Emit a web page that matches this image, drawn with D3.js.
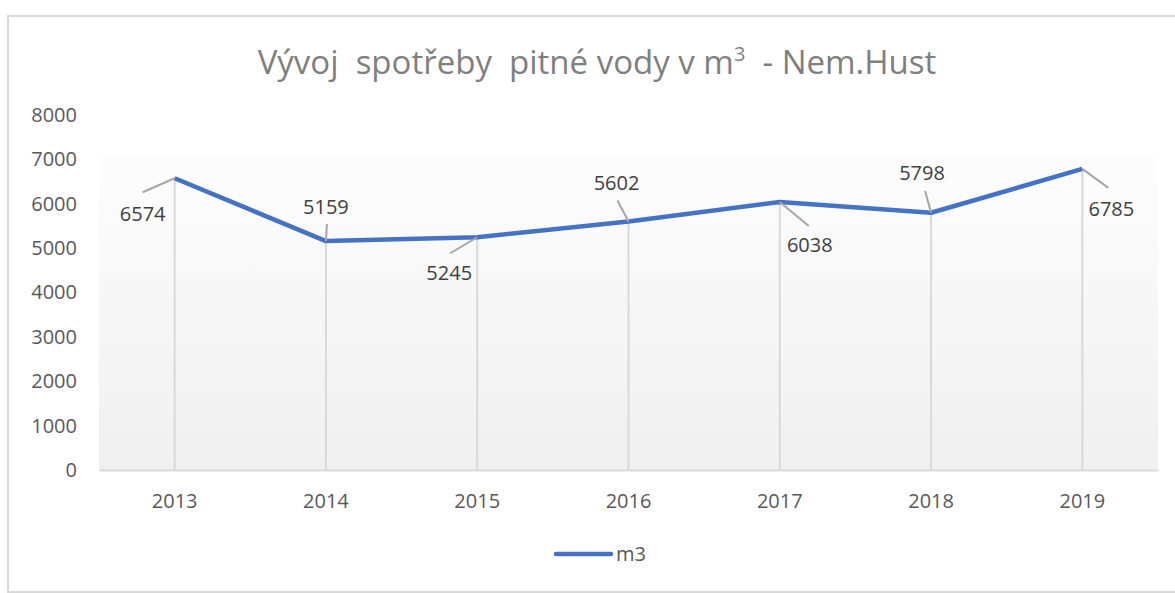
<!DOCTYPE html>
<html>
<head>
<meta charset="utf-8">
<script src="https://cdn.jsdelivr.net/npm/d3@7"></script>
<style>
  body { margin: 0; background: #fff; }
  text { font-family: "Open Sans", "Noto Sans", sans-serif; }
</style>
</head>
<body>
<div id="chart"></div>
<script>
// data
const years = ['2013', '2014', '2015', '2016', '2017', '2018', '2019'];
const values = [6574, 5159, 5245, 5602, 6038, 5798, 6785];
const yTicks = [0, 1000, 2000, 3000, 4000, 5000, 6000, 7000, 8000];
const seriesName = 'm3';

// label placement (leader end dx/dy, text dx/dy relative to point)
const labelPos = [
  { lx: -32, ly: 14, tx: -32, ty: 36 },
  { lx: 1, ly: -17, tx: 0, ty: -34 },
  { lx: -27, ly: 16, tx: -28, ty: 36 },
  { lx: -11, ly: -21, tx: -12, ty: -38 },
  { lx: 29, ly: 24, tx: 30, ty: 43 },
  { lx: -6, ly: -22, tx: -9, ty: -40 },
  { lx: 26, ly: 19, tx: 29, ty: 40 }
];

const W = 1175, H = 593;
const margin = { left: 99, right: 17, top: 115, bottom: 123 };
const fs = '20px';

const svg = d3.select('#chart').append('svg')
  .attr('width', W).attr('height', H);

// outer frame
svg.append('rect')
  .attr('x', 8).attr('y', 16).attr('width', 1180).attr('height', 576)
  .style('fill', '#fff').style('stroke', '#d9d9d9').style('stroke-width', 2);

const x = d3.scaleBand().domain(years).range([margin.left, W - margin.right]);
const y = d3.scaleLinear().domain([0, 8000]).range([H - margin.bottom, margin.top]);

// plot background gradient
const grad = svg.append('defs').append('linearGradient')
  .attr('id', 'bg').attr('x1', 0).attr('y1', 0).attr('x2', 0).attr('y2', 1);
grad.append('stop').attr('offset', '0%').attr('stop-color', '#fdfdfd');
grad.append('stop').attr('offset', '100%').attr('stop-color', '#f0f0f0');

const bgTop = 155;
svg.append('rect')
  .attr('x', margin.left).attr('y', bgTop)
  .attr('width', W - margin.right - margin.left).attr('height', y(0) - bgTop)
  .style('fill', 'url(#bg)');

// title
const title = svg.append('text')
  .attr('x', 597).attr('y', 74)
  .style('text-anchor', 'middle').style('font-size', '33px')
  .style('fill', '#7f7f7f').style('white-space', 'pre');
title.append('tspan').text('Vývoj  spotřeby  pitné vody v m');
title.append('tspan').attr('dy', -13).style('font-size', '20px').text('3');
title.append('tspan').attr('dy', 13).text('  - Nem.Hust');

// y axis labels
const yAxis = d3.axisLeft(y).tickValues(yTicks).tickFormat(d3.format('d'))
  .tickSize(0).tickPadding(0);
svg.append('g')
  .attr('transform', `translate(${77},0)`)
  .call(yAxis)
  .call(g => g.select('.domain').remove())
  .call(g => g.selectAll('text')
    .style('font-size', fs).style('fill', '#595959')
    .style('font-family', '"Open Sans", sans-serif'));

// x axis
const xAxis = d3.axisBottom(x).tickSize(0).tickPadding(0);
svg.append('g')
  .attr('transform', `translate(0,${y(0)})`)
  .call(xAxis)
  .call(g => g.select('.domain').style('stroke', '#d9d9d9').style('stroke-width', 2))
  .call(g => g.selectAll('text')
    .attr('y', 24)
    .style('font-size', fs).style('fill', '#595959')
    .style('font-family', '"Open Sans", sans-serif'));

const cx = d => x(d) + x.bandwidth() / 2;

// drop lines
svg.append('g').selectAll('line')
  .data(values)
  .join('line')
  .attr('x1', (d, i) => cx(years[i])).attr('x2', (d, i) => cx(years[i]))
  .attr('y1', d => y(d)).attr('y2', y(0))
  .style('stroke', '#d9d9d9').style('stroke-width', 2);

// series line
const line = d3.line()
  .x((d, i) => cx(years[i]))
  .y(d => y(d));

svg.append('path')
  .datum(values)
  .attr('d', line)
  .style('fill', 'none').style('stroke', '#4472c4')
  .style('stroke-width', 4.5).style('stroke-linejoin', 'round');

// leader lines and data labels
const labels = svg.append('g');
values.forEach((v, i) => {
  const px = cx(years[i]), py = y(v), p = labelPos[i];
  labels.append('line')
    .attr('x1', px).attr('y1', py)
    .attr('x2', px + p.lx).attr('y2', py + p.ly)
    .style('stroke', '#a6a6a6').style('stroke-width', 2);
  labels.append('text')
    .attr('x', px + p.tx).attr('y', py + p.ty)
    .attr('dy', '0.35em')
    .style('text-anchor', 'middle').style('font-size', fs).style('fill', '#404040')
    .text(v);
});

// legend
const legend = svg.append('g').attr('transform', `translate(556,554)`);
legend.append('line')
  .attr('x1', 0).attr('x2', 55)
  .style('stroke', '#4472c4').style('stroke-width', 4.5).style('stroke-linecap', 'round');
legend.append('text')
  .attr('x', 60).attr('dy', '0.35em')
  .style('font-size', fs).style('fill', '#595959')
  .text(seriesName);
</script>
</body>
</html>
